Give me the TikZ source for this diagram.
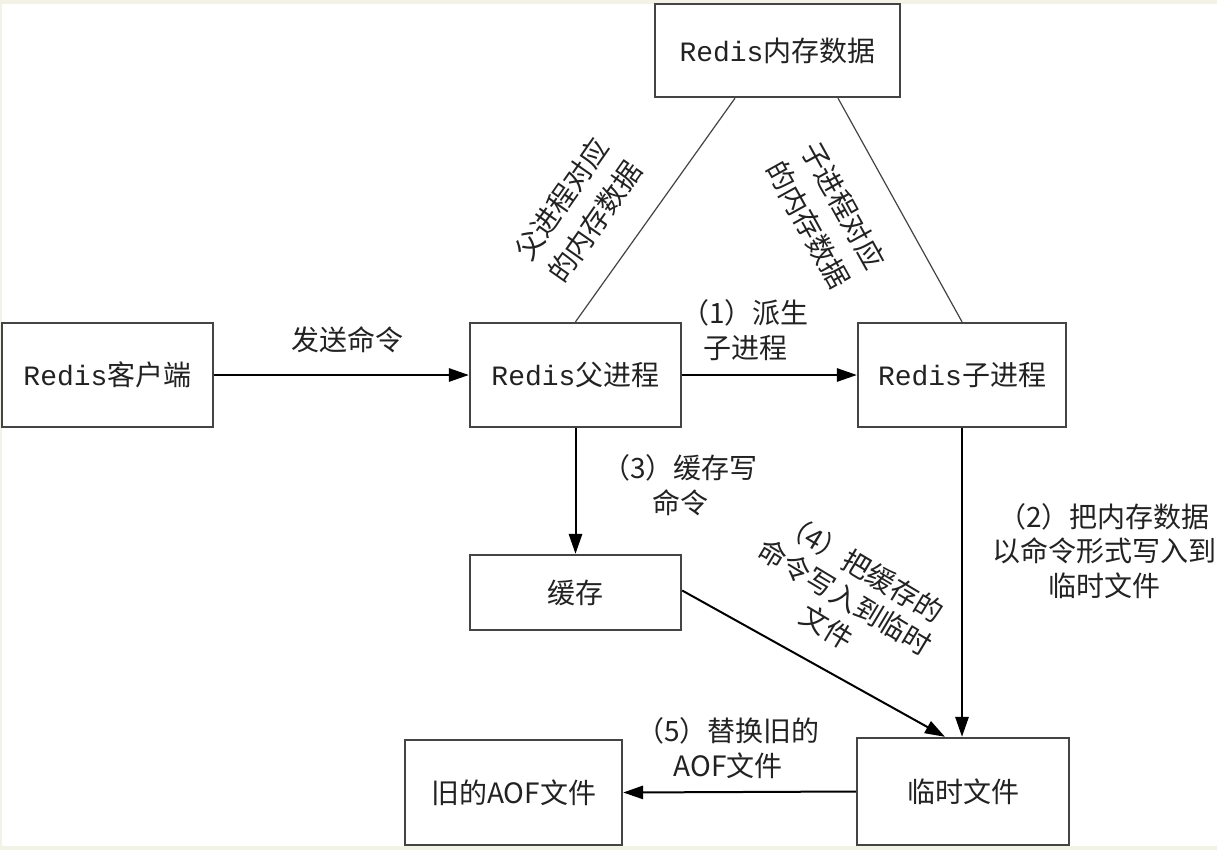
\documentclass[tikz,border=0pt]{standalone}
\usepackage{fontspec}
\setmainfont{Noto Sans CJK SC}
\newfontfamily\monofnt{Liberation Mono}
\usetikzlibrary{arrows.meta}
\definecolor{bgc}{HTML}{F3F2E7}
\definecolor{boxc}{HTML}{444444}
\definecolor{txtc}{HTML}{222222}
\begin{document}
\begin{tikzpicture}[x=0.75pt,y=-0.75pt,
  every node/.style={text=txtc,font=\fontsize{21}{26}\selectfont},
  bx/.style 2 args={draw=boxc,line width=1.8pt,fill=white,inner sep=0pt,
     minimum width=#1*0.75pt,minimum height=#2*0.75pt},
  arr/.style={line width=1.5pt,draw=black,-{Triangle[length=15pt,width=10pt]}},
  thin line/.style={line width=0.9pt,draw=boxc},
  lbl/.style={align=center,inner sep=0pt},
  rlbl/.style={align=center,inner sep=0pt,font=\fontsize{21}{30}\selectfont}]
\useasboundingbox (0,0) rectangle (1217,850);
\clip (0,0) rectangle (1217,850);
\fill[bgc] (0,0) rectangle (1217,850);
\fill[white] (2,4) rectangle (1217,846);

% nodes
\node[bx={245}{93}]  (mem)    at (777.5,50.5) {{\monofnt Redis}内存数据};
\node[bx={211}{104}] (client) at (107.5,375)  {{\monofnt Redis}客户端};
\node[bx={211}{104}] (parent) at (575.5,375)  {{\monofnt Redis}父进程};
\node[bx={208}{104}] (child)  at (962,375)    {{\monofnt Redis}子进程};
\node[bx={211}{75}]  (cache)  at (575.5,592.5){缓存};
\node[bx={217}{105}] (old)    at (513.5,792.5){旧的AOF文件};
\node[bx={212}{107}] (temp)   at (963,791.5)  {临时文件};

% thin lines to memory data
\draw[thin line] (parent.north) -- ([xshift=-42.5*0.75pt]mem.south);
\draw[thin line] (child.north) -- ([xshift=60.5*0.75pt]mem.south);

% arrows
\draw[arr] (client.east) -- (parent.west);
\draw[arr] (parent.east) -- (child.west);
\draw[arr] (parent.south) -- (cache.north);
\draw[arr] ([yshift=2*0.75pt]cache.east) -- ([xshift=-18*0.75pt]temp.north);
\draw[arr] (child.south) -- ([xshift=-1*0.75pt]temp.north);
\draw[arr] (temp.west) -- (old.east);

% labels
\node[lbl] (l0) at (347,340) {发送命令};
\node[lbl] (l1) at (745,330) {（1）派生\\子进程};
\node[lbl] (l3) at (680,485) {（3）缓存写\\命令};
\node[lbl] (l2) at (1104,551) {（2）把内存数据\\以命令形式写入到\\临时文件};
\node[lbl] (l5) at (728,748) {（5）替换旧的\\AOF文件};
\node[rlbl,rotate=55] (lp) at (578,210) {父进程对应\\的内存数据};
\node[rlbl,rotate=-61] (lc) at (826,215) {子进程对应\\的内存数据};
\node[lbl,rotate=-31] (l4) at (845,597) {（4）把缓存的\\命令写入到临时\\文件};
\end{tikzpicture}
\end{document}
